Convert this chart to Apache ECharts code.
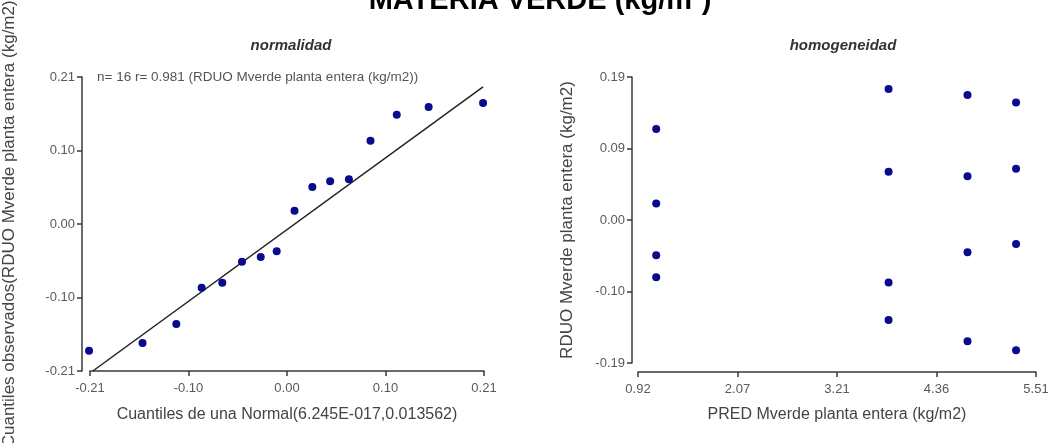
<!DOCTYPE html>
<html>
<head>
<meta charset="utf-8">
<script src="https://cdn.jsdelivr.net/npm/echarts@6/dist/echarts.min.js"></script>
<style>
html,body{margin:0;padding:0;background:#fff;}
#chart{width:1058px;height:443px;}
</style>
</head>
<body>
<div id="chart"></div>
<script>
// ---- Data ----
// Q-Q plot: theoretical normal quantiles vs observed residual quantiles
const qqTheoretical = [-0.211, -0.154, -0.118, -0.091, -0.069, -0.048, -0.028, -0.011, 0.008, 0.027, 0.046, 0.066, 0.089, 0.117, 0.151, 0.209];
const qqObserved    = [-0.181, -0.170, -0.143, -0.091, -0.084, -0.054, -0.047, -0.039, 0.019, 0.053, 0.061, 0.064, 0.119, 0.156, 0.167, 0.173];
// reference line of the Q-Q plot (two end points)
const qqLineX = [-0.207, 0.209];
const qqLineY = [-0.210, 0.196];
const qqTicks = [-0.21, -0.105, 0, 0.105, 0.21];
const qqTickLabels = ['-0.21', '-0.10', '0.00', '0.10', '0.21'];

// Residuals vs predicted
const predValues = [1.13, 1.13, 1.13, 1.13, 3.81, 3.81, 3.81, 3.81, 4.72, 4.72, 4.72, 4.72, 5.28, 5.28, 5.28, 5.28];
const residValues = [0.121, 0.022, -0.047, -0.076, 0.174, 0.064, -0.083, -0.133, 0.166, 0.058, -0.043, -0.161, 0.156, 0.068, -0.032, -0.173];
const predTicks = [0.92, 2.0675, 3.215, 4.3625, 5.51];
const predTickLabels = ['0.92', '2.07', '3.21', '4.36', '5.51'];
const residTicks = [-0.19, -0.095, 0, 0.095, 0.19];
const residTickLabels = ['-0.19', '-0.10', '0.00', '0.09', '0.19'];

const mainTitle = 'MATERIA VERDE (kg/m²)';
const leftTitle = 'normalidad';
const rightTitle = 'homogeneidad';
const qqNote = 'n= 16 r= 0.981 (RDUO Mverde planta entera (kg/m2))';

// ---- Chart ----
const FONT = '"Liberation Sans", Arial, sans-serif';
const axisColor = '#3a3a3a';
const labelColor = '#5a5a5a';
const dotColor = '#0a0a8c';

function pick(ticks, labels) {
  return function (v) {
    let best = 0, d = Infinity;
    ticks.forEach((t, i) => { const dd = Math.abs(t - v); if (dd < d) { d = dd; best = i; } });
    return labels[best];
  };
}

function valueAxis(opts) {
  return Object.assign({
    type: 'value',
    min: opts.ticks[0],
    max: opts.ticks[opts.ticks.length - 1],
    splitLine: { show: false },
    axisLine: { show: true, onZero: false, lineStyle: { color: axisColor, width: 1.5 } },
    axisTick: { show: true, length: 5, customValues: opts.ticks, lineStyle: { color: axisColor, width: 1.5 } },
    axisLabel: {
      customValues: opts.ticks,
      formatter: pick(opts.ticks, opts.labels),
      color: labelColor, fontFamily: FONT, fontSize: 13, margin: opts.margin
    },
    nameLocation: 'middle',
    nameTextStyle: Object.assign({ color: '#444', fontFamily: FONT, fontSize: 16 }, opts.nameStyle || {})
  }, opts.extra);
}

const chart = echarts.init(document.getElementById('chart'), null, { renderer: 'canvas' });
chart.setOption({
  backgroundColor: '#fff',
  animation: false,
  title: [
    { text: mainTitle, left: 535, top: -19, textAlign: 'center',
      textStyle: { fontFamily: FONT, fontSize: 29, fontWeight: 'bold', color: '#000' } },
    { text: leftTitle, left: 286, top: 33, textAlign: 'center',
      textStyle: { fontFamily: FONT, fontSize: 15, fontWeight: 'bold', fontStyle: 'italic', color: '#333' } },
    { text: rightTitle, left: 838, top: 33, textAlign: 'center',
      textStyle: { fontFamily: FONT, fontSize: 15, fontWeight: 'bold', fontStyle: 'italic', color: '#333' } }
  ],
  grid: [
    { left: 90, top: 77, width: 394, height: 294, containLabel: false, outerBoundsMode: 'none' },
    { left: 638, top: 77, width: 398, height: 286, containLabel: false, outerBoundsMode: 'none' }
  ],
  xAxis: [
    valueAxis({ ticks: qqTicks, labels: qqTickLabels, margin: 11,
      extra: { gridIndex: 0, position: 'bottom', offset: 0, name: 'Cuantiles de una Normal(6.245E-017,0.013562)', nameGap: 36 } }),
    valueAxis({ ticks: predTicks, labels: predTickLabels, margin: 11,
      extra: { gridIndex: 1, position: 'bottom', offset: 9, name: 'PRED Mverde planta entera (kg/m2)', nameGap: 35 } })
  ],
  yAxis: [
    valueAxis({ ticks: qqTicks, labels: qqTickLabels, margin: 7,
      nameStyle: { fontSize: 17, padding: [0, 0, 0, 6] },
      extra: { gridIndex: 0, position: 'left', offset: 8, name: 'Cuantiles observados(RDUO Mverde planta entera (kg/m2))', nameGap: 64 } }),
    valueAxis({ ticks: residTicks, labels: residTickLabels, margin: 7,
      nameStyle: { fontSize: 17 },
      extra: { gridIndex: 1, position: 'left', offset: 6, name: 'RDUO Mverde planta entera (kg/m2)', nameGap: 56 } })
  ],
  series: [
    { type: 'line', xAxisIndex: 0, yAxisIndex: 0, symbol: 'none', clip: false,
      data: qqLineX.map((x, i) => [x, qqLineY[i]]),
      lineStyle: { color: '#222', width: 1.5 }, z: 2 },
    { type: 'scatter', xAxisIndex: 0, yAxisIndex: 0, symbolSize: 8, clip: false,
      data: qqTheoretical.map((x, i) => [x, qqObserved[i]]),
      itemStyle: { color: dotColor, opacity: 1 }, z: 3 },
    { type: 'scatter', xAxisIndex: 1, yAxisIndex: 1, symbolSize: 8, clip: false,
      data: predValues.map((x, i) => [x, residValues[i]]),
      itemStyle: { color: dotColor, opacity: 1 }, z: 3 }
  ],
  graphic: [
    { type: 'text', left: 97, top: 70,
      style: { text: qqNote, fill: '#555', font: '13.5px ' + FONT } }
  ]
});
</script>
</body>
</html>
